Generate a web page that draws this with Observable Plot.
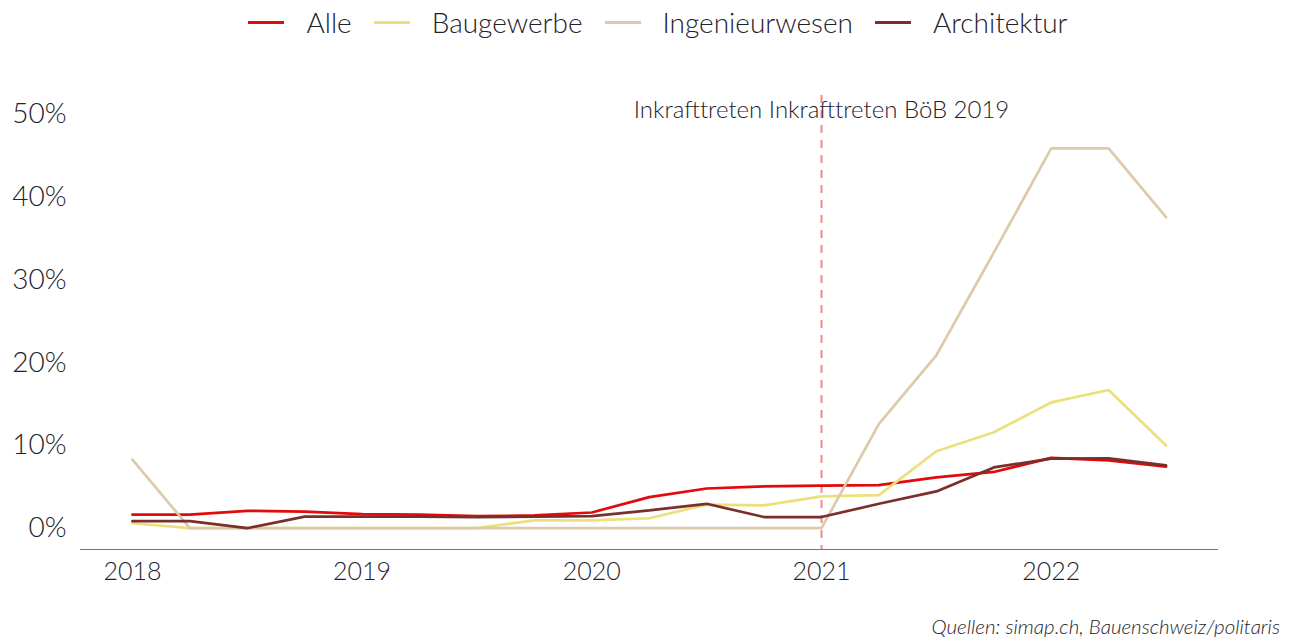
<!DOCTYPE html>
<html>
<head>
<meta charset="utf-8">
<script src="https://cdn.jsdelivr.net/npm/d3@7"></script>
<script src="https://cdn.jsdelivr.net/npm/@observablehq/plot@0.6"></script>
<style>
  html, body { margin: 0; padding: 0; background: #fff; }
  body { width: 1306px; height: 637px; font-family: Lato, "Open Sans", sans-serif; color: #1e222b; overflow: hidden; }
  #legend { height: 44px; display: flex; justify-content: center; align-items: center; font-size: 28px; font-weight: 300; padding-left: 10px; }
  #legend .item { display: flex; align-items: center; margin: 0 11px; }
  #legend .sw { display: inline-block; width: 36px; height: 3px; margin-right: 22px; }
  #caption { margin-top: 21px; text-align: right; padding-right: 26px; font-style: italic; font-size: 20.5px; line-height: 22px; font-weight: 300; }
  #chart svg { display: block; }
</style>
</head>
<body>
<div id="legend"></div>
<div id="chart"></div>
<div id="caption">Quellen: simap.ch, Bauenschweiz/politaris</div>
<script>
const quarters = [2018, 2018.25, 2018.5, 2018.75, 2019, 2019.25, 2019.5, 2019.75, 2020, 2020.25, 2020.5, 2020.75, 2021, 2021.25, 2021.5, 2021.75, 2022, 2022.25, 2022.5];
const seriesNames = ["Alle", "Baugewerbe", "Ingenieurwesen", "Architektur"];
const seriesColors = ["#e20a0a", "#ece07c", "#dccaa9", "#7b2f2b"];
const alle = [1.65, 1.65, 2.1, 2.0, 1.7, 1.65, 1.45, 1.55, 1.9, 3.75, 4.8, 5.05, 5.15, 5.2, 6.15, 6.8, 8.5, 8.2, 7.45];
const baugewerbe = [0.6, 0, 0, 0, 0, 0, 0, 0.95, 0.95, 1.2, 2.85, 2.75, 3.85, 4.0, 9.3, 11.6, 15.2, 16.7, 10.0];
const ingenieurwesen = [8.3, 0, 0, 0, 0, 0, 0, 0, 0, 0, 0, 0, 0, 12.6, 20.9, 33.3, 45.9, 45.9, 37.6];
const architektur = [0.85, 0.85, 0, 1.4, 1.4, 1.4, 1.35, 1.4, 1.45, 2.15, 2.95, 1.35, 1.35, 2.95, 4.45, 7.35, 8.4, 8.45, 7.6];
const yearTicks = [2018, 2019, 2020, 2021, 2022];
const percentTicks = [0, 10, 20, 30, 40, 50];
const annotationYear = 2021;
const annotationLabel = "Inkrafttreten Inkrafttreten BöB 2019";

const seriesValues = [alle, baugewerbe, ingenieurwesen, architektur];
const data = seriesNames.flatMap((name, i) =>
  quarters.map((q, j) => ({ x: q, y: seriesValues[i][j], series: name }))
);

// legend
const legend = document.getElementById("legend");
seriesNames.forEach((name, i) => {
  const item = document.createElement("div");
  item.className = "item";
  const sw = document.createElement("span");
  sw.className = "sw";
  sw.style.background = seriesColors[i];
  const lab = document.createElement("span");
  lab.textContent = name;
  item.appendChild(sw);
  item.appendChild(lab);
  legend.appendChild(item);
});

const chart = Plot.plot({
  width: 1306,
  height: 550,
  marginLeft: 80,
  marginRight: 89,
  marginTop: 70,
  marginBottom: 45,
  style: { fontFamily: "Lato, 'Open Sans', sans-serif", color: "#1e222b", background: "#fff" },
  x: { domain: [2017.774, 2022.724] },
  y: { domain: [-2.574, 50] },
  color: { domain: seriesNames, range: seriesColors },
  marks: [
    Plot.frame({ anchor: "bottom", stroke: "#777" }),
    Plot.ruleX([annotationYear], { stroke: "#f08a8a", strokeWidth: 2, strokeDasharray: "8,7", insetTop: -19 }),
    Plot.line(data, { x: "x", y: "y", z: "series", stroke: "series", strokeWidth: 2.7, strokeLinejoin: "miter" }),
    Plot.text([annotationLabel], { x: () => annotationYear, text: d => d, frameAnchor: "top", dy: -14, fontSize: 24, fontWeight: 300, fill: "#1e222b" }),
    Plot.axisY({ ticks: percentTicks, tickFormat: d => d + "%", tickSize: 0, tickPadding: 14, fontSize: 28, fontWeight: 300, label: null }),
    Plot.axisX({ ticks: yearTicks, tickFormat: d3.format("d"), tickSize: 0, tickPadding: 13, fontSize: 25, fontWeight: 300, label: null })
  ]
});
document.getElementById("chart").appendChild(chart);
</script>
</body>
</html>
